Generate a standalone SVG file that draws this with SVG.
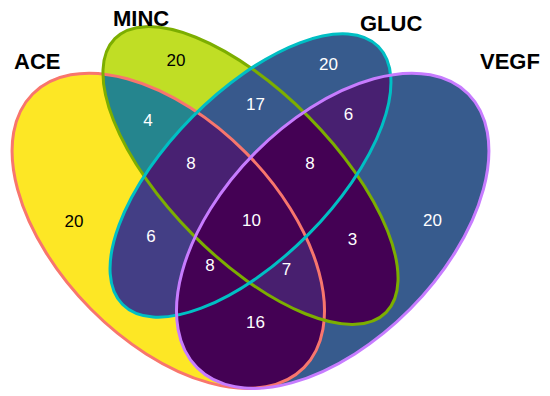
<svg xmlns="http://www.w3.org/2000/svg" width="550" height="396" viewBox="0 0 550 396">
<style>
.lbl{font-family:"Liberation Sans",Arial,sans-serif;font-weight:bold;font-size:22px;fill:#000}
.num{font-family:"Liberation Sans",Arial,sans-serif;font-size:17px;fill:#fff;text-anchor:middle}
.dark{fill:#000}
.out{fill:none;stroke-width:3}
</style>
<defs>
<ellipse id="eA" cx="0" cy="0" rx="0.35" ry="0.2" transform="translate(250.5 175.5) scale(548 553) translate(-0.15 0.1) rotate(45)" vector-effect="non-scaling-stroke"/>
<ellipse id="eM" cx="0" cy="0" rx="0.35" ry="0.15" transform="translate(250.5 175.5) scale(548 553) rotate(45)" vector-effect="non-scaling-stroke"/>
<ellipse id="eG" cx="0" cy="0" rx="0.33" ry="0.15" transform="translate(250.5 175.5) scale(548 553) rotate(-45)" vector-effect="non-scaling-stroke"/>
<ellipse id="eV" cx="0" cy="0" rx="0.35" ry="0.2" transform="translate(250.5 175.5) scale(548 553) translate(0.15 0.1) rotate(-45)" vector-effect="non-scaling-stroke"/>
<clipPath id="cA"><use href="#eA"/></clipPath>
<clipPath id="cM"><use href="#eM"/></clipPath>
<clipPath id="cG"><use href="#eG"/></clipPath>
</defs>
<g id="regions">
<use href="#eA" fill="#FDE725"/>
<use href="#eM" fill="#C0DE25"/>
<use href="#eG" fill="#375B8D"/>
<use href="#eV" fill="#375B8D"/>
<g clip-path="url(#cA)"><use href="#eM" fill="#25858E"/></g>
<g clip-path="url(#cA)"><use href="#eG" fill="#433E85"/></g>
<g clip-path="url(#cA)"><use href="#eV" fill="#440154"/></g>
<g clip-path="url(#cM)"><use href="#eG" fill="#38598C"/></g>
<g clip-path="url(#cM)"><use href="#eV" fill="#440154"/></g>
<g clip-path="url(#cG)"><use href="#eV" fill="#482071"/></g>
<g clip-path="url(#cA)"><g clip-path="url(#cM)"><use href="#eG" fill="#482172"/></g></g>
<g clip-path="url(#cA)"><g clip-path="url(#cM)"><use href="#eV" fill="#481F6F"/></g></g>
<g clip-path="url(#cA)"><g clip-path="url(#cG)"><use href="#eV" fill="#440154"/></g></g>
<g clip-path="url(#cM)"><g clip-path="url(#cG)"><use href="#eV" fill="#440154"/></g></g>
<g clip-path="url(#cA)"><g clip-path="url(#cM)"><g clip-path="url(#cG)"><use href="#eV" fill="#440154"/></g></g></g>
</g>
<g id="connectors"></g>
<g id="ACE"><use href="#eA" class="out" stroke="#F8766D"/><text class="lbl" x="14" y="69">ACE</text></g>
<g id="MINC"><use href="#eM" class="out" stroke="#7CAE00"/><text class="lbl" x="113" y="26">MINC</text></g>
<g id="GLUC"><use href="#eG" class="out" stroke="#00BFC4"/><text class="lbl" x="360" y="31">GLUC</text></g>
<g id="VEGF"><use href="#eV" class="out" stroke="#C77CFF"/><text class="lbl" x="480" y="69">VEGF</text></g>
<g id="counts">
<text class="num dark" x="74" y="227">20</text>
<text class="num dark" x="176" y="66">20</text>
<text class="num" x="328.5" y="70">20</text>
<text class="num" x="432.5" y="226">20</text>
<text class="num" x="148" y="126">4</text>
<text class="num" x="255.5" y="109.5">17</text>
<text class="num" x="348.5" y="120">6</text>
<text class="num" x="191" y="169">8</text>
<text class="num" x="310" y="169">8</text>
<text class="num" x="151" y="242">6</text>
<text class="num" x="251.5" y="226">10</text>
<text class="num" x="352.5" y="245">3</text>
<text class="num" x="210" y="271">8</text>
<text class="num" x="286.5" y="275">7</text>
<text class="num" x="255.5" y="328">16</text>
</g>
</svg>
